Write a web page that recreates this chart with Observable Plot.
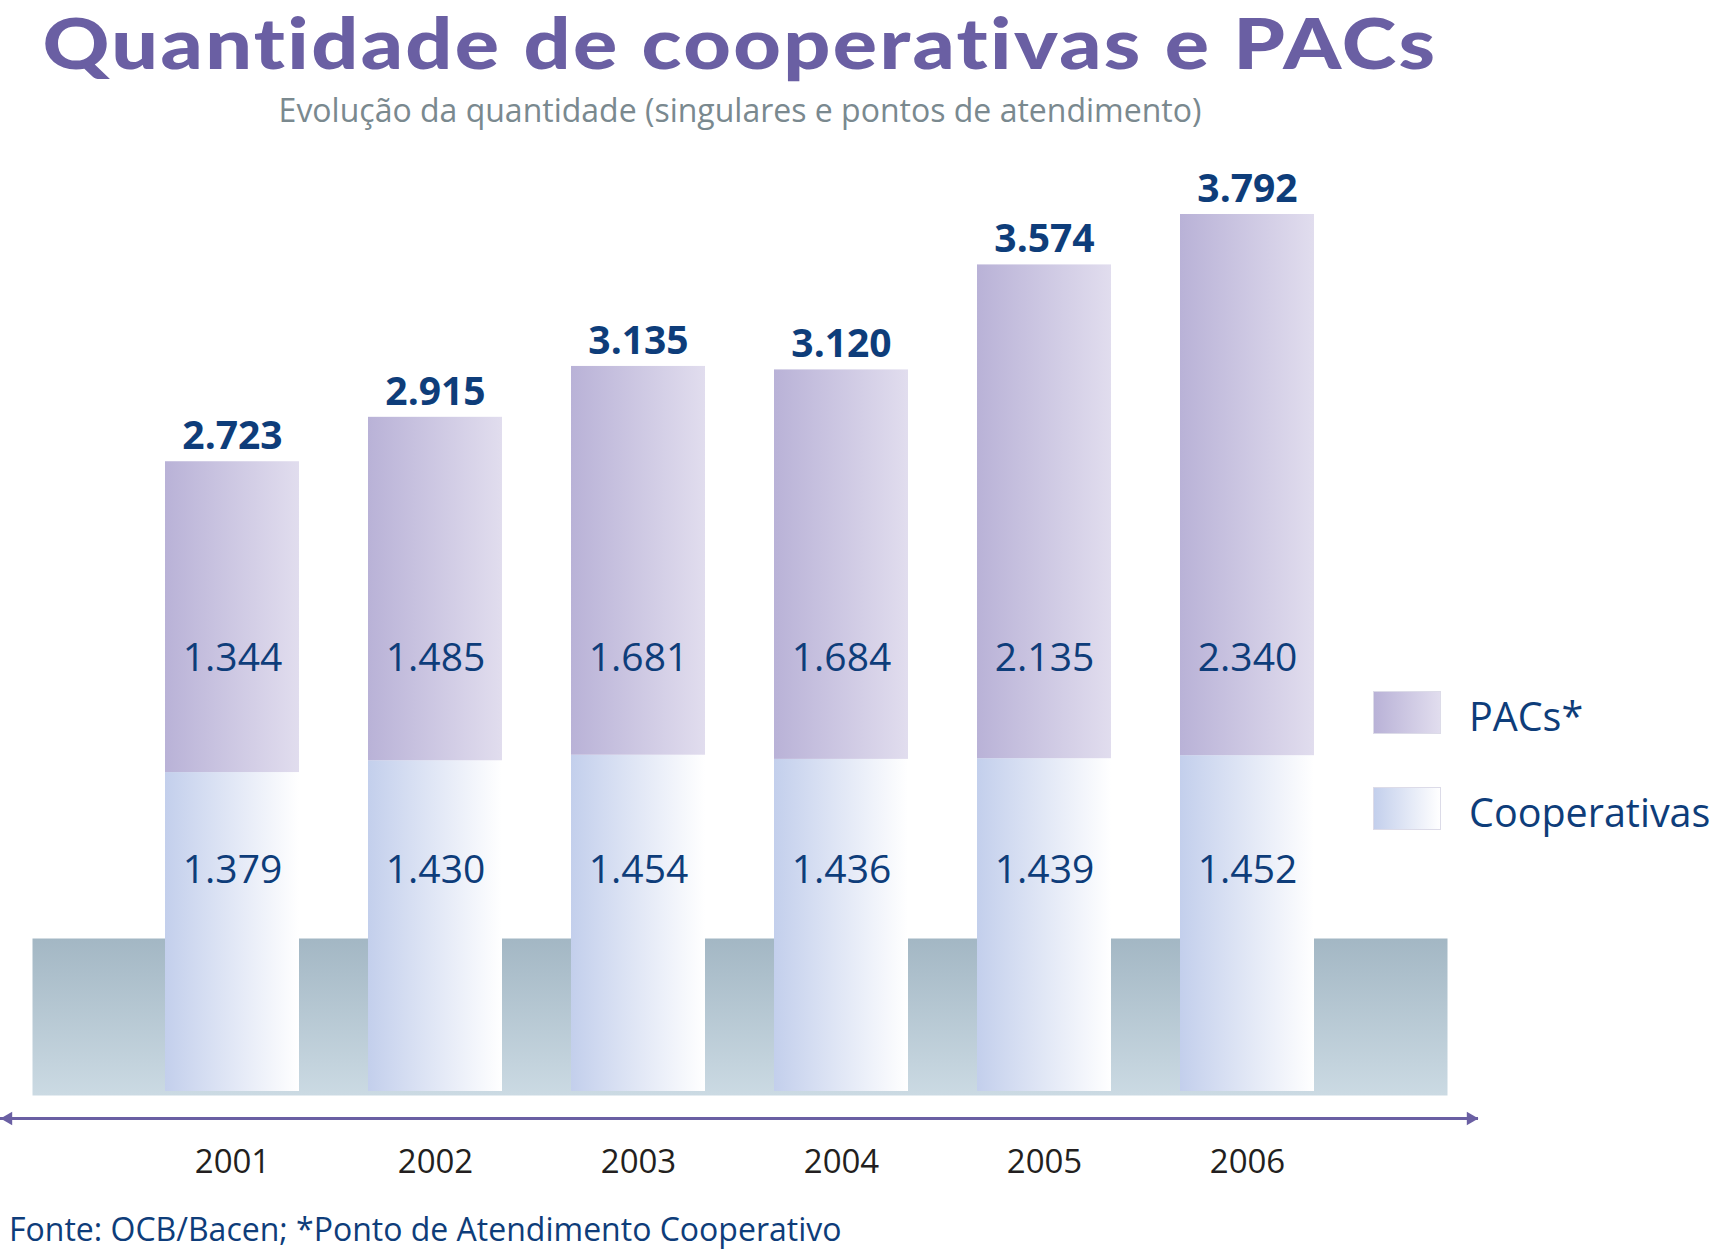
<!DOCTYPE html>
<html>
<head>
<meta charset="utf-8">
<script src="https://cdn.jsdelivr.net/npm/d3@7"></script>
<script src="https://cdn.jsdelivr.net/npm/@observablehq/plot@0.6"></script>
<style>
  html, body { margin: 0; padding: 0; background: #ffffff; }
  #page { position: relative; width: 1714px; height: 1252px; overflow: hidden; font-family: "Open Sans", sans-serif; }
  #title { position: absolute; left: 0; width: 1480px; top: 0px; text-align: center; font-family: Lato, "Open Sans", sans-serif; font-size: 70px; line-height: 84px; font-weight: 900; letter-spacing: 2px; font-variant-ligatures: none; color: #6a5fa3; white-space: nowrap; transform: scaleX(1.18); transform-origin: 740px 0; }
  #subtitle { position: absolute; left: 0; width: 1480px; top: 94px; text-align: center; font-size: 32px; line-height: 32px; color: #7a898f; white-space: nowrap; }
  #chart { position: absolute; left: 0; top: 130px; }
  #footer { position: absolute; left: 9px; top: 1213px; font-size: 32px; line-height: 32px; color: #0e3d7a; white-space: nowrap; }
  .sw { position: absolute; left: 1373px; width: 68px; height: 43px; box-sizing: border-box; border: 1px solid #dcdbe8; }
  .lg { position: absolute; left: 1469px; font-size: 39.5px; line-height: 40px; color: #0e3d7a; white-space: nowrap; }
</style>
</head>
<body>
<div id="page">
  <div id="title">Quantidade de cooperativas e PACs</div>
  <div id="subtitle">Evolução da quantidade (singulares e pontos de atendimento)</div>
  <div id="chart"></div>
  <div class="sw" style="top:691px;background:linear-gradient(to right,#b9b2d7,#e1ddee);"></div>
  <div class="lg" style="top:696px;">PACs*</div>
  <div class="sw" style="top:787px;background:linear-gradient(to right,#c3cfec,#ffffff);"></div>
  <div class="lg" style="top:792px;">Cooperativas</div>
  <div id="footer">Fonte: OCB/Bacen; *Ponto de Atendimento Cooperativo</div>
</div>
<script>
// ---- data ----
const years = ["2001", "2002", "2003", "2004", "2005", "2006"];
const cooperativas = [1379, 1430, 1454, 1436, 1439, 1452];
const pacs = [1344, 1485, 1681, 1684, 2135, 2340];
const totals = [2723, 2915, 3135, 3120, 3574, 3792];

const fmt = v => d3.format(",")(v).replace(/,/g, ".");
const rows = years.map((year, i) => ({year, coop: cooperativas[i], pac: pacs[i], total: totals[i]}));

const ink = "#0e3d7a";
const arrowColor = "#6a5fa3";

const svg = Plot.plot({
  width: 1714,
  height: 1122,
  marginLeft: 0,
  marginRight: 236,
  marginTop: 84,
  marginBottom: 161,
  x: {type: "band", domain: years, paddingInner: 0.341, paddingOuter: 0.8, label: null},
  y: {domain: [0, d3.max(totals)], axis: null},
  style: {fontFamily: '"Open Sans", sans-serif', background: "transparent", overflow: "visible"},
  marks: [
    Plot.frame({fill: "url(#gBand)", stroke: "none", insetTop: 724, insetBottom: -4, insetLeft: 32, insetRight: 31}),
    Plot.barY(rows, {x: "year", y1: 0, y2: "coop", fill: "url(#gCoop)"}),
    Plot.barY(rows, {x: "year", y1: "coop", y2: "total", fill: "url(#gPac)"}),
    Plot.text(rows, {x: "year", y: "total", text: d => fmt(d.total), dy: -12.6, lineAnchor: "bottom", fontSize: 39, fontWeight: 700, fill: ink}),
    Plot.text(rows, {x: "year", text: d => fmt(d.pac), frameAnchor: "bottom", dy: -421, lineAnchor: "bottom", fontSize: 39, fill: ink}),
    Plot.text(rows, {x: "year", text: d => fmt(d.coop), frameAnchor: "bottom", dy: -209, lineAnchor: "bottom", fontSize: 39, fill: ink}),
    Plot.ruleY([0], {stroke: arrowColor, strokeWidth: 3, dy: 27}),
    Plot.dot([0], {frameAnchor: "bottom-left", symbol: "triangle", r: 5, rotate: -90, fill: arrowColor, stroke: "none", dx: 7.8, dy: 27}),
    Plot.dot([0], {frameAnchor: "bottom-right", symbol: "triangle", r: 5, rotate: 90, fill: arrowColor, stroke: "none", dx: -7.8, dy: 27}),
    Plot.axisX({tickSize: 0, tickPadding: 58, fontSize: 33, color: "#231f20", label: null})
  ]
});

const defs = d3.select(svg).insert("defs", ":first-child");
defs.html(`
  <linearGradient id="gPac" x1="0" y1="0" x2="1" y2="0">
    <stop offset="0" stop-color="#b9b2d7"/><stop offset="1" stop-color="#e1ddee"/>
  </linearGradient>
  <linearGradient id="gCoop" x1="0" y1="0" x2="1" y2="0">
    <stop offset="0" stop-color="#c3cfec"/><stop offset="1" stop-color="#ffffff"/>
  </linearGradient>
  <linearGradient id="gBand" x1="0" y1="0" x2="0" y2="1">
    <stop offset="0" stop-color="#a3b7c4"/><stop offset="1" stop-color="#cbdae3"/>
  </linearGradient>`);

document.getElementById("chart").appendChild(svg);
</script>
</body>
</html>
